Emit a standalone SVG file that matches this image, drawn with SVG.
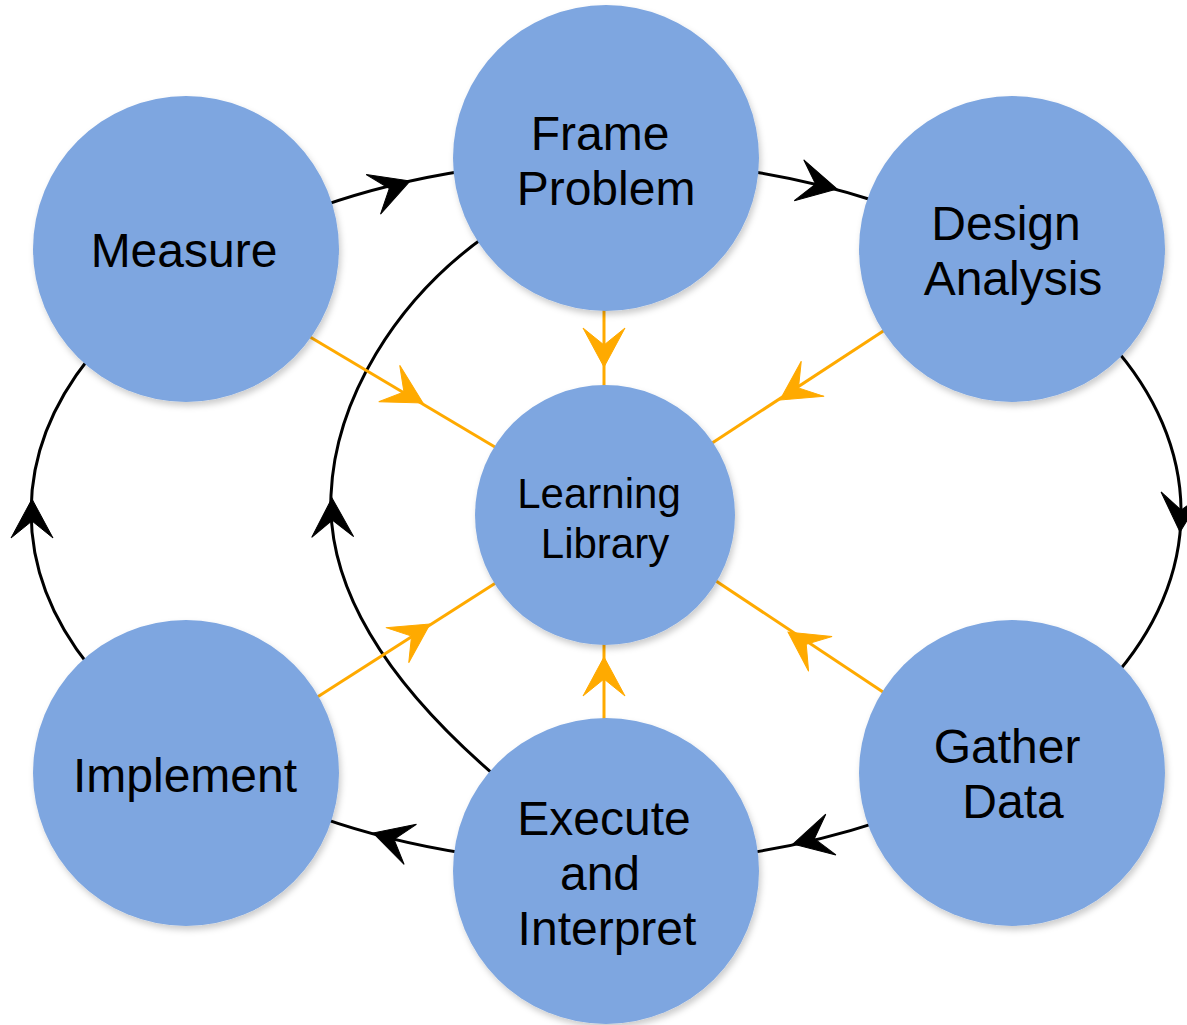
<svg xmlns="http://www.w3.org/2000/svg" width="1187" height="1025" viewBox="0 0 1187 1025">
<style>
  .node { fill: #7EA6E0; filter: url(#sh); }
  .lbl { font-family: "Liberation Sans", Arial, sans-serif; font-size: 48px; fill: #000; text-anchor: middle; }
  .lbls { font-family: "Liberation Sans", Arial, sans-serif; font-size: 42px; fill: #000; text-anchor: middle; }
  .blk { fill: none; stroke: #000; stroke-width: 3; }
  .org { fill: none; stroke: #FFAA00; stroke-width: 3; }
  .ahb { fill: #000; stroke: #000; stroke-width: 1; }
  .aho { fill: #FFAA00; stroke: #FFAA00; stroke-width: 1; }
</style>
<defs>
  <filter id="sh" x="-20%" y="-20%" width="140%" height="140%">
    <feDropShadow dx="2" dy="4" stdDeviation="3" flood-color="#000" flood-opacity="0.2"/>
  </filter>
  <path id="ah" d="M0,0 L-39,-21 L-22,0 L-39,21 Z"/>
</defs>
<rect width="1187" height="1025" fill="#fff"/>
<g id="connectors">
  <path class="blk" d="M320,206.6 A575,352 0 0 1 465,170.7"/>
  <path class="blk" d="M748,170.9 A575,352 0 0 1 876,201.2"/>
  <path class="blk" d="M1110,342.5 A575,352 0 0 1 1110,681.5"/>
  <path class="blk" d="M878,822.1 A575,352 0 0 1 748,853.1"/>
  <path class="blk" d="M465,853.3 A575,352 0 0 1 320,817.4"/>
  <path class="blk" d="M90,667.2 A575,352 0 0 1 90,356.8"/>
  <path class="blk" d="M500,780 C420,712 326,610 331,495 C335,400 395,300 487,235"/>
  <path class="org" d="M604,300 L604,395"/>
  <path class="org" d="M604,730 L604,636"/>
  <path class="org" d="M300,331 L505,453"/>
  <path class="org" d="M894,324 L703,449"/>
  <path class="org" d="M308,703 L505,577"/>
  <path class="org" d="M892,698 L707,575"/>
  <use href="#ah" class="ahb" transform="translate(410,181) rotate(-20)"/>
  <use href="#ah" class="ahb" transform="translate(837,189) rotate(13)"/>
  <use href="#ah" class="ahb" transform="translate(1180,532) rotate(93)"/>
  <use href="#ah" class="ahb" transform="translate(793,844) rotate(166)"/>
  <use href="#ah" class="ahb" transform="translate(373,833) rotate(197)"/>
  <use href="#ah" class="ahb" transform="translate(32,499) rotate(-90)"/>
  <use href="#ah" class="ahb" transform="translate(332,498) rotate(-91)"/>
  <use href="#ah" class="aho" transform="translate(604,367) rotate(90)"/>
  <use href="#ah" class="aho" transform="translate(604,657) rotate(-90)"/>
  <use href="#ah" class="aho" transform="translate(423,403) rotate(30)"/>
  <use href="#ah" class="aho" transform="translate(780,400) rotate(147)"/>
  <use href="#ah" class="aho" transform="translate(430,624) rotate(-33)"/>
  <use href="#ah" class="aho" transform="translate(788,632) rotate(-146)"/>
</g>
<g id="frame-problem">
  <circle class="node" cx="606" cy="158" r="153"/>
  <text class="lbl" x="600" y="150">Frame</text>
  <text class="lbl" x="606" y="205">Problem</text>
</g>
<g id="measure">
  <circle class="node" cx="186" cy="249" r="153"/>
  <text class="lbl" x="184" y="267">Measure</text>
</g>
<g id="design-analysis">
  <circle class="node" cx="1012" cy="249" r="153"/>
  <text class="lbl" x="1006" y="240">Design</text>
  <text class="lbl" x="1013" y="295">Analysis</text>
</g>
<g id="learning-library">
  <circle class="node" cx="605" cy="515" r="130"/>
  <text class="lbls" x="599" y="508">Learning</text>
  <text class="lbls" x="605" y="558">Library</text>
</g>
<g id="implement">
  <circle class="node" cx="186" cy="773" r="153"/>
  <text class="lbl" x="185" y="792">Implement</text>
</g>
<g id="gather-data">
  <circle class="node" cx="1012" cy="773" r="153"/>
  <text class="lbl" x="1007" y="763">Gather</text>
  <text class="lbl" x="1013" y="818">Data</text>
</g>
<g id="execute-interpret">
  <circle class="node" cx="606" cy="871" r="153"/>
  <text class="lbl" x="604" y="835">Execute</text>
  <text class="lbl" x="600" y="890">and</text>
  <text class="lbl" x="607" y="945">Interpret</text>
</g>
</svg>
